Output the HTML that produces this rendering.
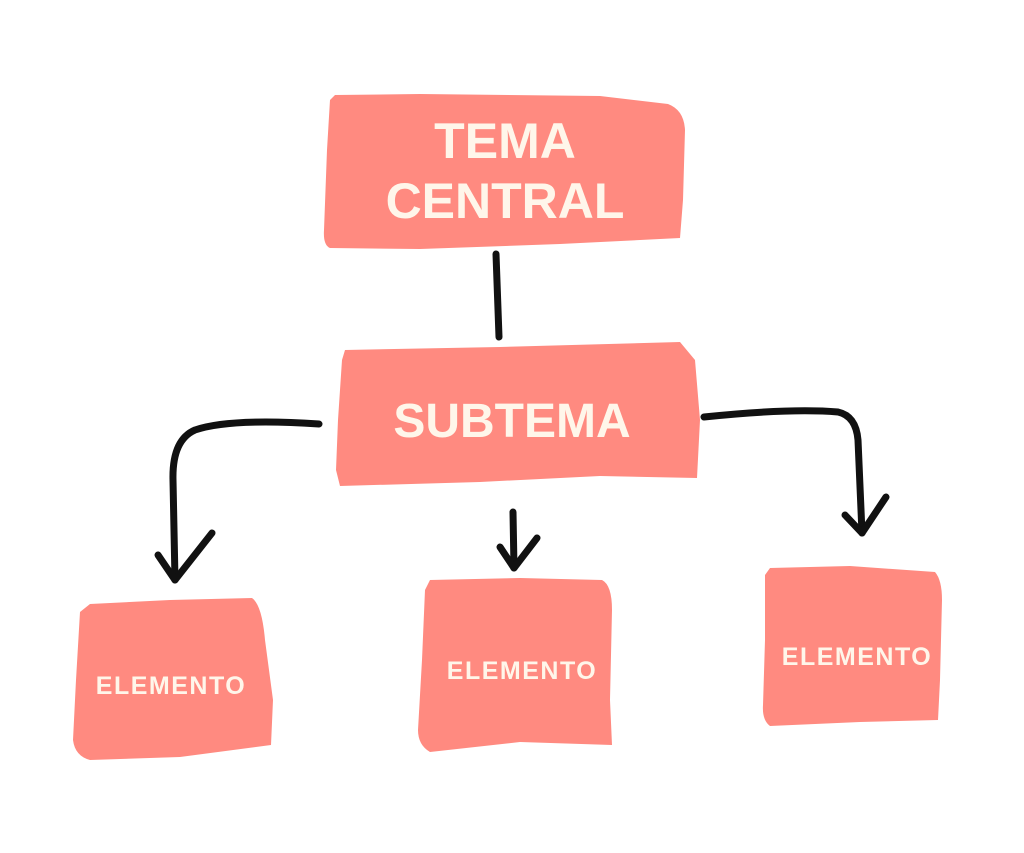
<!DOCTYPE html>
<html><head><meta charset="utf-8"><style>
html,body{margin:0;padding:0;background:#fff;}
svg{display:block;}
text{font-family:"Liberation Sans",sans-serif;font-weight:bold;fill:#FFF6EA;text-anchor:middle;}
</style></head><body>
<svg width="1024" height="853" viewBox="0 0 1024 853" xmlns="http://www.w3.org/2000/svg">
<g fill="#FF8A80">
<path d="M335,95 L420,94 L600,96 L668,104 Q684,110 685,130 L683,200 L680,238 L560,244 L420,249 L330,248 Q323,245 324,230 L327,150 L330,100 Z"/>
<path d="M345,350 L500,347 L680,342 L695,360 L700,420 L697,478 L600,476 L480,482 L340,486 L336,470 L338,420 L342,360 Z"/>
<path d="M90,604 L170,600 L252,598 Q262,605 265,640 L273,700 L271,745 L180,757 L90,760 Q75,756 73,740 L76,680 L80,612 Z"/>
<path d="M430,580 L520,578 L602,580 Q612,585 612,610 L610,700 L612,745 L520,742 L430,752 Q418,745 418,730 L422,660 L425,590 Z"/>
<path d="M770,568 L850,566 L935,572 Q942,580 942,600 L940,680 L938,720 L860,722 L770,726 Q762,720 763,705 L765,640 L765,575 Z"/>
</g>
<text x="505" y="158" font-size="50">TEMA</text>
<text x="505" y="218" font-size="50">CENTRAL</text>
<text x="512" y="437" font-size="48">SUBTEMA</text>
<text x="171" y="694" font-size="25" letter-spacing="1.5">ELEMENTO</text>
<text x="522" y="679" font-size="25" letter-spacing="1.5">ELEMENTO</text>
<text x="857" y="665" font-size="25" letter-spacing="1.5">ELEMENTO</text>
<g fill="none" stroke="#111" stroke-width="7" stroke-linecap="round" stroke-linejoin="round">
<path d="M496,254 L499,337"/>
<path d="M319,424 Q230,418 195,430 Q172,440 173,480 L175,580"/>
<path d="M158,555 L175,580 L212,533"/>
<path d="M513,512 L514,568"/>
<path d="M500,547 L514,568 L537,538"/>
<path d="M704,417 Q790,408 838,412 Q856,416 858,440 L862,533"/>
<path d="M845,515 L862,533 L886,497"/>
</g>
</svg>
</body></html>
